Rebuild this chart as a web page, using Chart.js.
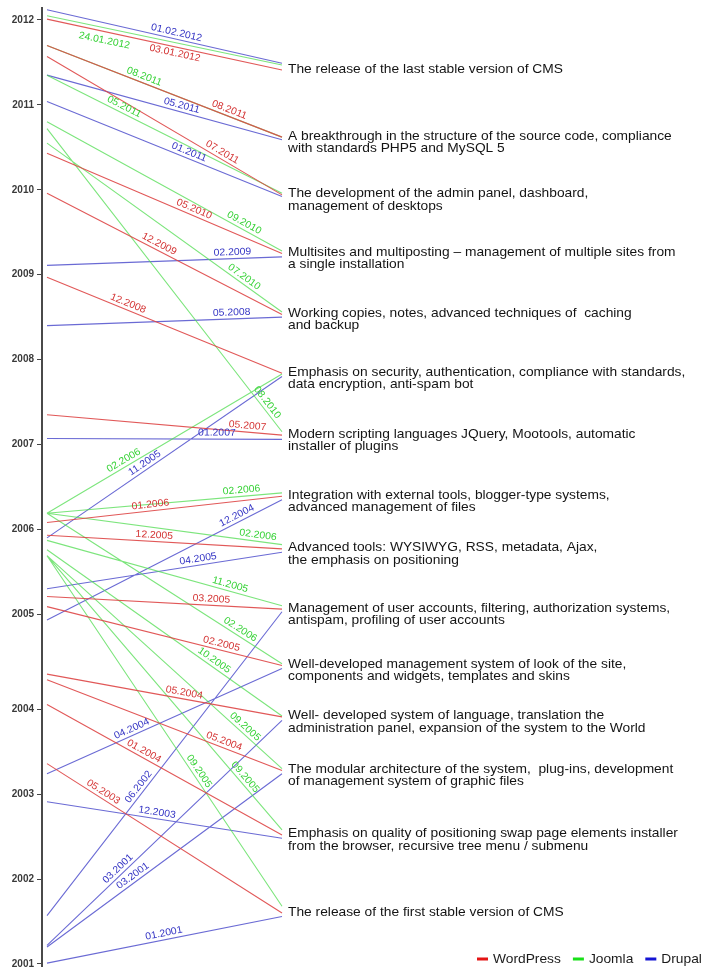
<!DOCTYPE html>
<html>
<head>
<meta charset="utf-8">
<script src="https://cdn.jsdelivr.net/npm/chart.js@4.4.0/dist/chart.umd.min.js"></script>
<style>
  html, body { margin: 0; padding: 0; background: #fff; overflow: hidden; }
</style>
</head>
<body>
<canvas id="grafico" width="703" height="968"></canvas>
<script>
// Years on the time axis
const yearTicks = [2001, 2002, 2003, 2004, 2005, 2006, 2007, 2008, 2009, 2010, 2011, 2012];

// Features (right side), from top to bottom
const features = [
  ['The release of the last stable version of CMS'],
  ['A breakthrough in the structure of the source code, compliance', 'with standards PHP5 and MySQL 5'],
  ['The development of the admin panel, dashboard,', 'management of desktops'],
  ['Multisites and multiposting \u2013 management of multiple sites from', 'a single installation'],
  ['Working copies, notes, advanced techniques of  caching', 'and backup'],
  ['Emphasis on security, authentication, compliance with standards,', 'data encryption, anti-spam bot'],
  ['Modern scripting languages JQuery, Mootools, automatic', 'installer of plugins'],
  ['Integration with external tools, blogger-type systems,', 'advanced management of files'],
  ['Advanced tools: WYSIWYG, RSS, metadata, Ajax,', 'the emphasis on positioning'],
  ['Management of user accounts, filtering, authorization systems,', 'antispam, profiling of user accounts'],
  ['Well-developed management system of look of the site,', 'components and widgets, templates and skins'],
  ['Well- developed system of language, translation the', 'administration panel, expansion of the system to the World'],
  ['The modular architecture of the system,  plug-ins, development', 'of management system of graphic files'],
  ['Emphasis on quality of positioning swap page elements installer', 'from the browser, recursive tree menu / submenu'],
  ['The release of the first stable version of CMS']
];

// WordPress: date label, start on the time axis, end at the feature (in years)
const wpDates = ['03.01.2012', '08.2011', '07.2011', '05.2010', '12.2009', '12.2008', '05.2007', '01.2006', '12.2005', '03.2005', '02.2005', '05.2004', '05.2004', '01.2004', '05.2003'];
const wpStart = [2012.01, 2011.70, 2011.57, 2010.43, 2009.96, 2008.97, 2007.35, 2006.08, 2005.93, 2005.21, 2005.09, 2004.37, 2004.31, 2004.05, 2003.36];
const wpEnd = [2011.41, 2010.62, 2009.94, 2009.25, 2008.53, 2007.84, 2007.11, 2006.39, 2005.77, 2005.06, 2004.46, 2003.91, 2003.28, 2002.52, 2001.60];

// Joomla
const jmDates = ['24.01.2012', '08.2011', '05.2011', '09.2010', '07.2010', '02.2006', '08.2010', '02.2006', '02.2006', '11.2005', '02.2006', '10.2005', '09.2005', '09.2005', '09.2005'];
const jmStart = [2012.05, 2011.70, 2011.35, 2010.80, 2010.55, 2006.19, 2010.72, 2006.19, 2006.19, 2005.87, 2006.19, 2005.76, 2005.69, 2005.69, 2005.69];
const jmEnd = [2011.47, 2010.62, 2009.96, 2009.28, 2008.56, 2007.83, 2007.15, 2006.43, 2005.82, 2005.10, 2004.48, 2003.92, 2003.30, 2002.58, 2001.68];

// Drupal
const drDates = ['01.02.2012', '05.2011', '01.2011', '02.2009', '05.2008', '11.2005', '01.2007', '12.2004', '04.2005', '06.2002', '04.2004', '03.2001', '03.2001', '12.2003', '01.2001'];
const drStart = [2012.12, 2011.35, 2011.04, 2009.11, 2008.40, 2005.90, 2007.07, 2004.94, 2005.30, 2001.57, 2003.24, 2001.22, 2001.20, 2002.91, 2001.01];
const drEnd = [2011.49, 2010.59, 2009.92, 2009.21, 2008.50, 2007.80, 2007.06, 2006.35, 2005.73, 2005.03, 2004.43, 2003.87, 2003.24, 2002.48, 2001.56];

// where the date label sits along each line (0 = axis, 1 = feature) and on which side
const wpLabelAt = [0.55, 0.766, 0.732, 0.616, 0.465, 0.335, 0.851, 0.443, 0.455, 0.698, 0.736, 0.579, 0.744, 0.40, 0.225];
const jmLabelAt = [0.255, 0.404, 0.316, 0.826, 0.823, 0.34, 0.916, 0.83, 0.894, 0.772, 0.808, 0.696, 0.825, 0.823, 0.625];
const drLabelAt = [0.545, 0.566, 0.595, 0.79, 0.787, 0.431, 0.723, 0.82, 0.647, 0.411, 0.372, 0.32, 0.381, 0.464, 0.503];
const wpSide = [-1, 1, 1, 1, 1, 1, 1, 1, 1, 1, 1, 1, 1, 1, 1];
const jmSide = [-2, 1, 1, 1, 1, 1, 1, 1, 1, 1, 1, 1, 1, 1, 1];
const drSide = [1, 1, 1, 1, 1, 1, 1, 1, 1, 1, 1, 1, 1, 1, 1];

const series = [
  { name: 'WordPress', dates: wpDates, start: wpStart, end: wpEnd, at: wpLabelAt, side: wpSide, line: 'rgba(222,70,70,0.9)', text: '#d43434', key: '#e41414' },
  { name: 'Joomla', dates: jmDates, start: jmStart, end: jmEnd, at: jmLabelAt, side: jmSide, line: 'rgba(80,220,80,0.75)', text: '#36d236', key: '#18e018' },
  { name: 'Drupal', dates: drDates, start: drStart, end: drEnd, at: drLabelAt, side: drSide, line: 'rgba(80,80,205,0.85)', text: '#3434c4', key: '#1414d4' }
];

// the gap between 2004 and 2005 is drawn a bit longer than the other years
function pos(year) {
  if (year >= 2005) return year;
  if (year >= 2004) return 2005 - (2005 - year) * 1.119;
  return year - 0.119;
}

const FONT = '"Liberation Sans", Arial, sans-serif';
Chart.defaults.font.family = FONT;

// Dibuja textos de las funciones, fechas sobre las lineas
const textosPlugin = {
  id: 'textos',
  afterDatasetsDraw(chart) {
    const { ctx } = chart;
    const x = chart.scales.x, y = chart.scales.y;
    ctx.save();
    ctx.textBaseline = 'middle';

    // features
    ctx.fillStyle = '#141414';
    ctx.font = '13px ' + FONT;
    features.forEach((lines, i) => {
      const px = x.getPixelForValue(1) + 6;
      const py = y.getPixelForValue(pos(wpEnd[i])) - 1;
      lines.forEach((t, k) => {
        ctx.save();
        ctx.translate(px, py + k * 12.3);
        ctx.scale(1.06, 1);
        ctx.fillText(t, 0, 0);
        ctx.restore();
      });
    });

    // dates along the lines
    ctx.font = '10px ' + FONT;
    ctx.textAlign = 'center';
    series.forEach(s => {
      ctx.fillStyle = s.text;
      s.dates.forEach((d, i) => {
        const x0 = x.getPixelForValue(0), y0 = y.getPixelForValue(pos(s.start[i]));
        const x1 = x.getPixelForValue(1), y1 = y.getPixelForValue(pos(s.end[i]));
        const a = Math.atan2(y1 - y0, x1 - x0);
        const t = s.at[i];
        const off = s.side[i] * 6.3;
        const cx = x0 + (x1 - x0) * t + Math.sin(a) * off;
        const cy = y0 + (y1 - y0) * t - Math.cos(a) * off;
        ctx.save();
        ctx.translate(cx, cy);
        ctx.rotate(a);
        ctx.scale(1.04, 1);
        ctx.fillText(d, 0, 0);
        ctx.restore();
      });
    });
    ctx.restore();
  }
};

// Leyenda abajo a la derecha
const leyendaPlugin = {
  id: 'leyenda',
  afterDraw(chart) {
    const { ctx } = chart;
    ctx.save();
    ctx.font = '13px ' + FONT;
    ctx.textBaseline = 'middle';
    let lx = 477;
    const ly = 959;
    series.forEach(s => {
      ctx.fillStyle = s.key;
      ctx.fillRect(lx, ly - 1.5, 11, 3);
      lx += 16;
      ctx.fillStyle = '#1a1a1a';
      ctx.save();
      ctx.translate(lx, ly);
      ctx.scale(1.06, 1);
      ctx.fillText(s.name, 0, 0);
      ctx.restore();
      lx += ctx.measureText(s.name).width * 1.06 + 12;
    });
    ctx.restore();
  }
};

const datasets = series.map(s => {
  const data = [];
  s.start.forEach((v, i) => {
    data.push({ x: 0, y: pos(v) });
    data.push({ x: 1, y: pos(s.end[i]) });
    data.push({ x: 1, y: null });
  });
  return {
    label: s.name,
    data: data,
    borderColor: s.line,
    borderWidth: 1.1,
    pointRadius: 0,
    tension: 0,
    spanGaps: false
  };
});

new Chart(document.getElementById('grafico'), {
  type: 'line',
  data: { datasets: datasets },
  options: {
    responsive: false,
    animation: false,
    layout: { padding: { top: 8, bottom: 2, left: 0, right: 0 } },
    plugins: {
      legend: { display: false },
      tooltip: { enabled: false }
    },
    scales: {
      x: {
        type: 'linear',
        display: false,
        min: -5 / 235,
        max: 656 / 235
      },
      y: {
        type: 'linear',
        min: 2000.857,
        max: 2012.141,
        afterBuildTicks: scale => {
          scale.ticks = yearTicks.map(v => ({ value: pos(v) }));
        },
        afterFit: scale => {
          scale.width = 42;
          scale.paddingTop = 0;
          scale.paddingBottom = 0;
        },
        ticks: {
          callback: (val, i) => yearTicks[i],
          color: '#3a3a3a',
          padding: 3,
          font: { size: 10, weight: 'bold' }
        },
        grid: {
          drawOnChartArea: false,
          drawTicks: true,
          tickLength: 5,
          color: '#444',
          tickColor: '#444'
        },
        border: { display: true, color: '#4a4a4a', width: 2 }
      }
    }
  },
  plugins: [textosPlugin, leyendaPlugin]
});
</script>
</body>
</html>
